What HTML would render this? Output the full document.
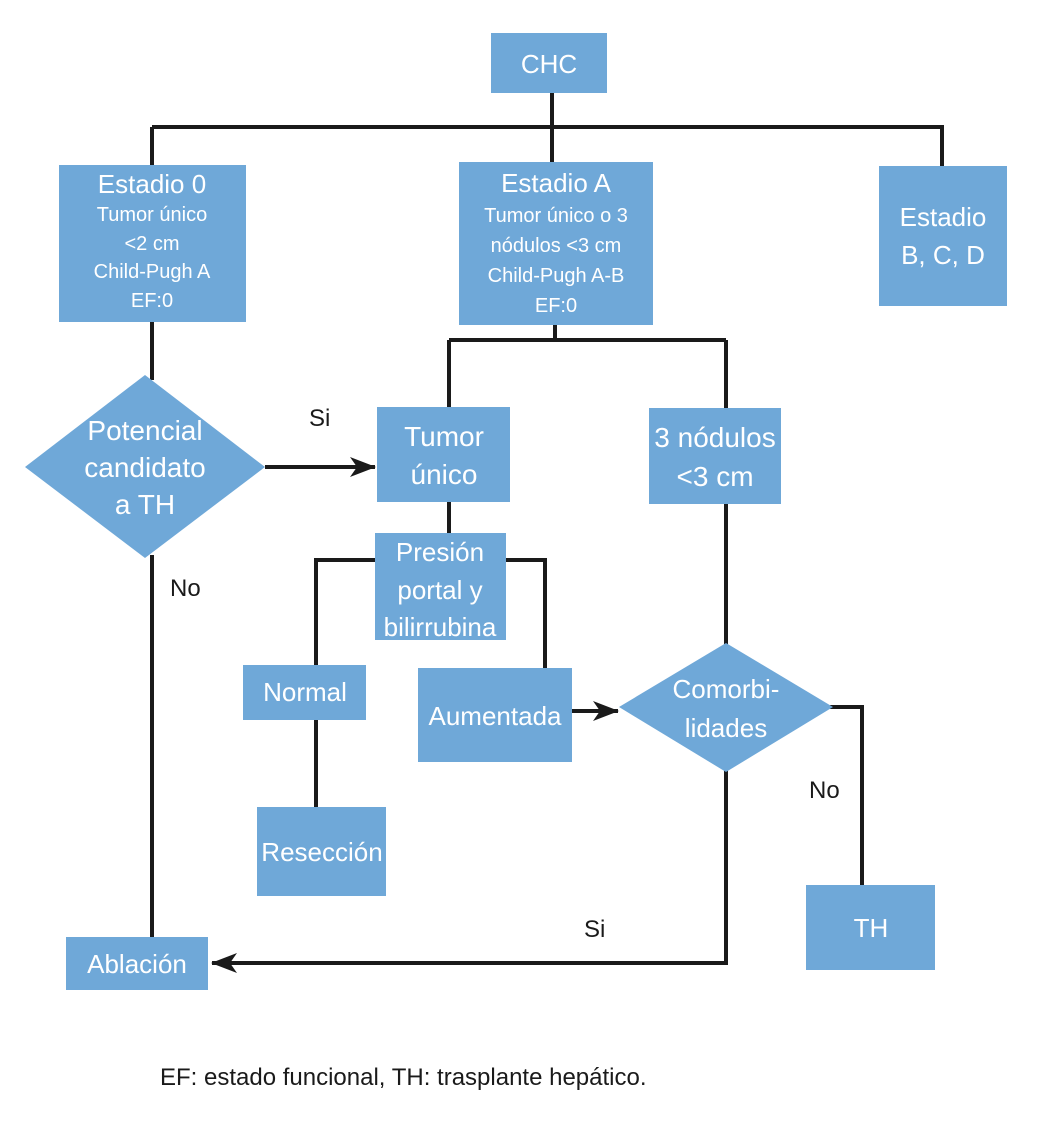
<!DOCTYPE html>
<html><head><meta charset="utf-8"><style>
html,body{margin:0;padding:0;background:#fff;}
svg{display:block;}
text{font-family:"Liberation Sans Narrow","Liberation Sans",sans-serif;}
.w{fill:#fff;text-anchor:middle;}
.k{fill:#1a1a1a;}
</style></head><body>
<svg width="1037" height="1133" viewBox="0 0 1037 1133" xmlns="http://www.w3.org/2000/svg">
<defs><marker id="a" markerWidth="10" markerHeight="10" refX="9" refY="5" orient="auto" markerUnits="userSpaceOnUse"><path d="M0,0 L10,5 L0,10 L3,5 z" fill="#1a1a1a"/></marker>
<marker id="b" viewBox="0 0 26 20" markerWidth="26" markerHeight="20" refX="25" refY="10" orient="auto" markerUnits="userSpaceOnUse"><path d="M0,0 L26,10 L0,20 L7,10 z" fill="#1a1a1a"/></marker></defs>
<g stroke="#1a1a1a" stroke-width="4" fill="none">
<path d="M552 93 V127 M152 127 H942 V166 M152 127 V165 M552 127 V162"/>
<path d="M152 322 V380 M152 555 V937"/>
<path d="M555 325 V340 M449 340 H726 M449 340 V407 M726 340 V408"/>
<path d="M449 502 V533 M375 560 H316 V665 M506 560 H545 V668 M316 720 V807"/>
<path d="M726 504 V645 M726 770 V963 H212" marker-end="url(#b)"/>
<path d="M830 707 H862 V885"/>
<path d="M265 467 H375" marker-end="url(#b)"/>
<path d="M572 711 H618" marker-end="url(#b)"/>
</g>
<g fill="#6fa8d8">
<rect x="491" y="33" width="116" height="60"/>
<rect x="59" y="165" width="187" height="157"/>
<rect x="459" y="162" width="194" height="163"/>
<rect x="879" y="166" width="128" height="140"/>
<rect x="377" y="407" width="133" height="95"/>
<rect x="649" y="408" width="132" height="96"/>
<rect x="375" y="533" width="131" height="107"/>
<rect x="243" y="665" width="123" height="55"/>
<rect x="257" y="807" width="129" height="89"/>
<rect x="418" y="668" width="154" height="94"/>
<rect x="806" y="885" width="129" height="85"/>
<rect x="66" y="937" width="142" height="53"/>
<polygon points="25,467 145,375 265,467 145,558"/>
<polygon points="619,707 726,643 833,707 726,772"/>
</g>
<g class="w">
<text x="549" y="73" font-size="26">CHC</text>
<text x="152" y="193" font-size="26">Estadio 0</text>
<text x="152" y="221" font-size="20">Tumor único</text>
<text x="152" y="250" font-size="20">&lt;2 cm</text>
<text x="152" y="278" font-size="20">Child-Pugh A</text>
<text x="152" y="307" font-size="20">EF:0</text>
<text x="556" y="192" font-size="26">Estadio A</text>
<text x="556" y="222" font-size="20">Tumor único o 3</text>
<text x="556" y="252" font-size="20">nódulos &lt;3 cm</text>
<text x="556" y="282" font-size="20">Child-Pugh A-B</text>
<text x="556" y="312" font-size="20">EF:0</text>
<text x="943" y="226" font-size="26">Estadio</text>
<text x="943" y="264" font-size="26">B, C, D</text>
<text x="444" y="446" font-size="28">Tumor</text>
<text x="444" y="484" font-size="28">único</text>
<text x="715" y="447" font-size="28">3 nódulos</text>
<text x="715" y="486" font-size="28">&lt;3 cm</text>
<text x="145" y="440" font-size="28">Potencial</text>
<text x="145" y="477" font-size="28">candidato</text>
<text x="145" y="514" font-size="28">a TH</text>
<text x="440" y="561" font-size="26">Presión</text>
<text x="440" y="599" font-size="26">portal y</text>
<text x="440" y="636" font-size="26">bilirrubina</text>
<text x="305" y="701" font-size="26">Normal</text>
<text x="322" y="861" font-size="26">Resección</text>
<text x="495" y="725" font-size="26">Aumentada</text>
<text x="726" y="698" font-size="26">Comorbi-</text>
<text x="726" y="737" font-size="26">lidades</text>
<text x="871" y="937" font-size="26">TH</text>
<text x="137" y="973" font-size="26">Ablación</text>
</g>
<g class="k" font-size="24">
<text x="309" y="426">Si</text>
<text x="170" y="596">No</text>
<text x="809" y="798">No</text>
<text x="584" y="937">Si</text>
<text x="160" y="1085">EF: estado funcional, TH: trasplante hepático.</text>
</g>
</svg>
</body></html>
